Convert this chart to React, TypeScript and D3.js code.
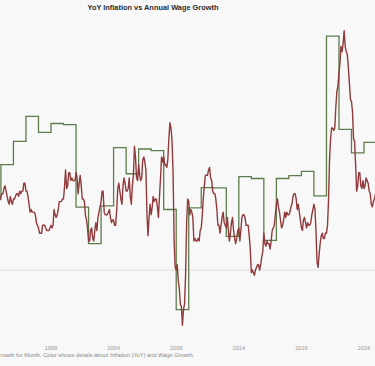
import React from "react";
import * as d3 from "d3";

// US CPI-U, year over year %, monthly from Jan 1994
const inflationStart = [1994, 0];
const inflationYoY = [
  2.5, 2.5, 2.5, 2.4, 2.3, 2.5, 2.8, 2.9, 3.0, 2.6, 2.7, 2.7,
  2.8, 2.9, 2.9, 3.1, 3.2, 3.0, 2.8, 2.6, 2.5, 2.8, 2.6, 2.5,
  2.7, 2.7, 2.8, 2.9, 2.9, 2.8, 3.0, 2.9, 3.0, 3.0, 3.3, 3.3,
  3.0, 3.0, 2.8, 2.5, 2.2, 2.3, 2.2, 2.2, 2.2, 2.1, 1.8, 1.7,
  1.6, 1.4, 1.4, 1.4, 1.7, 1.7, 1.7, 1.6, 1.5, 1.5, 1.5, 1.6,
  1.7, 1.6, 1.7, 2.3, 2.1, 2.0, 2.1, 2.3, 2.6, 2.6, 2.6, 2.7,
  2.7, 3.2, 3.8, 3.1, 3.2, 3.7, 3.7, 3.4, 3.5, 3.4, 3.4, 3.4,
  3.7, 3.5, 2.9, 3.3, 3.6, 3.2, 2.7, 2.7, 2.6, 2.1, 1.9, 1.6,
  1.1, 1.1, 1.5, 1.6, 1.2, 1.1, 1.5, 1.8, 1.5, 2.0, 2.2, 2.4,
  2.6, 3.0, 3.0, 2.2, 2.1, 2.1, 2.1, 2.2, 2.3, 2.0, 1.8, 1.9,
  1.9, 1.7, 1.7, 2.3, 3.1, 3.3, 3.0, 2.7, 2.5, 3.2, 3.5, 3.3,
  3.0, 3.0, 3.1, 3.5, 2.8, 2.5, 3.2, 3.6, 4.7, 4.3, 3.5, 3.4,
  4.0, 3.6, 3.4, 3.5, 4.2, 4.3, 4.1, 3.8, 2.1, 1.3, 2.0, 2.5,
  2.1, 2.4, 2.8, 2.6, 2.7, 2.7, 2.4, 2.0, 2.8, 3.5, 4.3, 4.1,
  4.3, 4.0, 4.0, 3.9, 4.2, 5.0, 5.6, 5.4, 4.9, 3.7, 1.1, 0.1,
  0.0, 0.2, -0.4, -0.7, -1.3, -1.4, -2.1, -1.5, -1.3, -0.2, 1.8, 2.7,
  2.6, 2.1, 2.3, 2.2, 2.0, 1.1, 1.2, 1.1, 1.1, 1.2, 1.1, 1.5,
  1.6, 2.1, 2.7, 3.2, 3.6, 3.6, 3.6, 3.8, 3.9, 3.5, 3.4, 3.0,
  2.9, 2.9, 2.7, 2.3, 1.7, 1.7, 1.4, 1.7, 2.0, 2.2, 1.8, 1.7,
  1.6, 2.0, 1.5, 1.1, 1.4, 1.8, 2.0, 1.5, 1.2, 1.0, 1.2, 1.5,
  1.6, 1.1, 1.5, 2.0, 2.1, 2.1, 2.0, 1.7, 1.7, 1.7, 1.3, 0.8,
  -0.1, 0.0, -0.1, -0.2, 0.0, 0.1, 0.2, 0.2, 0.0, 0.2, 0.5, 0.7,
  1.4, 1.0, 0.9, 1.1, 1.0, 1.0, 0.8, 1.1, 1.5, 1.6, 1.7, 2.1,
  2.5, 2.7, 2.4, 2.2, 1.9, 1.6, 1.7, 1.9, 2.2, 2.0, 2.2, 2.1,
  2.1, 2.2, 2.4, 2.5, 2.8, 2.9, 2.9, 2.7, 2.3, 2.5, 2.2, 1.9,
  1.6, 1.5, 1.9, 2.0, 1.8, 1.6, 1.8, 1.7, 1.7, 1.8, 2.1, 2.3,
  2.5, 2.3, 1.5, 0.3, 0.1, 0.6, 1.0, 1.3, 1.4, 1.2, 1.2, 1.4,
  1.4, 1.7, 2.6, 4.2, 5.0, 5.4, 5.4, 5.3, 5.4, 6.2, 6.8, 7.0,
  7.5, 7.9, 8.5, 8.3, 8.6, 9.1, 8.5, 8.3, 8.2, 7.7, 7.1, 6.5,
  6.4, 6.0, 5.0, 4.9, 4.0, 3.0, 3.2, 3.7, 3.7, 3.2, 3.1, 3.4,
  3.1, 3.2, 3.5, 3.4, 3.3, 3.0, 2.9, 2.5, 2.4, 2.6, 2.7, 2.9,
  3.0, 2.8,
];

// annual wage growth %, one value per calendar year
const wageYears = d3.range(1994, 2025);
const wageGrowth = [
  2.68, 4.01, 4.89, 5.84, 5.23, 5.57, 5.53, 2.39, 1.0, 2.44,
  4.65, 3.66, 4.6, 4.54, 2.3, -1.51, 2.36, 3.13, 3.12, 1.28,
  3.55, 3.48, 1.13, 3.48, 3.59, 3.75, 2.82, 8.89, 5.35, 4.45,
  4.85,
];

const tickYears = [1999, 2004, 2009, 2014, 2019, 2024];

const W = 375;
const H = 366;
const font = "'Liberation Sans', Arial, sans-serif";

export default function App() {
  const x = d3
    .scaleTime()
    .domain([new Date(1999, 0, 1), new Date(2024, 0, 1)])
    .range([51, 364]);
  const y = d3.scaleLinear().domain([0, 9]).range([270, 33.3]);

  const inflation = inflationYoY.map((v, i) => ({
    date: new Date(inflationStart[0], inflationStart[1] + i, 1),
    value: v,
  }));
  const wage = wageYears.map((yr, i) => ({ date: new Date(yr, 0, 1), value: wageGrowth[i] }));
  wage.push({ date: new Date(2025, 11, 31), value: wageGrowth[wageGrowth.length - 1] });

  const line = d3
    .line<{ date: Date; value: number }>()
    .x(d => x(d.date))
    .y(d => y(d.value));
  const stepLine = d3
    .line<{ date: Date; value: number }>()
    .x(d => x(d.date))
    .y(d => y(d.value))
    .curve(d3.curveStepAfter);

  return (
    <>
      <style>{`body{margin:0}`}</style>
      <svg width={W} height={H} style={{ display: "block", background: "#f8f8f8" }}>
        <rect width={W} height={H} fill="#f8f8f8" />
        <text x={153} y={9.5} textAnchor="middle" fontFamily={font} fontWeight="bold" fontSize={7.4} fill="#2e2e2e">
          YoY Inflation vs Annual Wage Growth
        </text>
        <line x1={0} x2={W} y1={y(0)} y2={y(0)} stroke="#dedede" strokeWidth={1.2} />
        <path d={stepLine(wage) || ""} fill="none" stroke="#5e7c4c" strokeWidth={1.3} />
        <path d={line(inflation) || ""} fill="none" stroke="#913a3b" strokeWidth={1.4} strokeLinejoin="round" />
        {tickYears.map(t => (
          <text key={t} x={x(new Date(t, 0, 1))} y={349.5} textAnchor="middle" fontFamily={font} fontSize={5.6} fill="#999">
            {t}
          </text>
        ))}
        <text x={0.5} y={357} fontFamily={font} fontSize={5.7} fill="#8a8a8a">
          rowth for Month.  Color shows details about Inflation (YoY) and Wage Growth.
        </text>
      </svg>
    </>
  );
}
